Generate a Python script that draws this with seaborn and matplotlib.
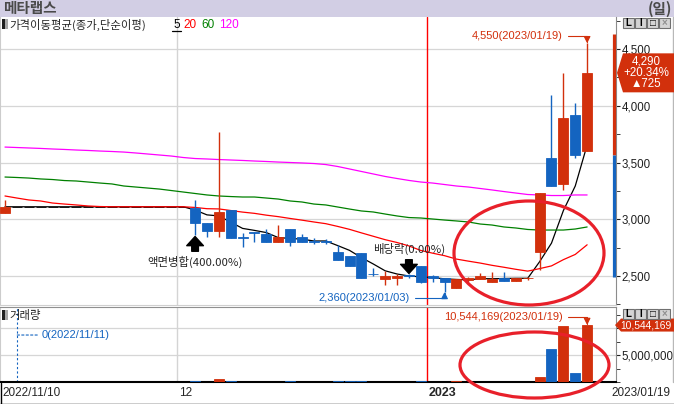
import numpy as np
import pandas as pd
import matplotlib
matplotlib.use('Agg')
import matplotlib.pyplot as plt
import matplotlib.transforms as mtransforms
from matplotlib.patches import Rectangle, Polygon, Ellipse
from matplotlib.lines import Line2D
from matplotlib.ticker import MultipleLocator
import seaborn as sns

# 메타랩스 일봉 (2022/11/10 ~ 2023/01/19)
dates = pd.to_datetime([
    '2022-11-10', '2022-11-11',
    '2022-11-14', '2022-11-15', '2022-11-16', '2022-11-17', '2022-11-18',
    '2022-11-21', '2022-11-22', '2022-11-23', '2022-11-24', '2022-11-25',
    '2022-11-28', '2022-11-29', '2022-11-30', '2022-12-01', '2022-12-02',
    '2022-12-05', '2022-12-06', '2022-12-07', '2022-12-08', '2022-12-09',
    '2022-12-12', '2022-12-13', '2022-12-14', '2022-12-15', '2022-12-16',
    '2022-12-19', '2022-12-20', '2022-12-21', '2022-12-22', '2022-12-23',
    '2022-12-26', '2022-12-27', '2022-12-28', '2022-12-29',
    '2023-01-02', '2023-01-03', '2023-01-04', '2023-01-05', '2023-01-06',
    '2023-01-09', '2023-01-10', '2023-01-11', '2023-01-12', '2023-01-13',
    '2023-01-16', '2023-01-17', '2023-01-18', '2023-01-19',
])

open_ = [3055, 3110, 3110, 3110, 3110, 3110, 3110, 3110, 3110, 3110, 3110, 3110, 3110, 3110, 3110, 3110,
         3099, 2967, 2896, 3081, 2840, 2884, 2870, 2800, 2914, 2843,
         2805, 2805, 2711, 2676, 2703, 2522, 2473, 2482, 2505, 2588,
         2500, 2482, 2394, 2465, 2473, 2450, 2482, 2460, 2478, 2711,
         3540, 3311, 3918, 3600]
high = [3170, 3110, 3110, 3110, 3110, 3110, 3110, 3110, 3110, 3110, 3110, 3110, 3110, 3110, 3110, 3110,
        3170, 2967, 3769, 3081, 2879, 2884, 2914, 2950, 2914, 2870,
        2835, 2826, 2773, 2676, 2703, 2570, 2544, 2518, 2518, 2588,
        2509, 2482, 2473, 2491, 2527, 2535, 2535, 2482, 2491, 3231,
        4095, 4289, 4024, 4550]
low = [3055, 3110, 3110, 3110, 3110, 3110, 3110, 3110, 3110, 3110, 3110, 3110, 3110, 3110, 3110, 3110,
       2861, 2844, 2844, 2835, 2755, 2800, 2800, 2800, 2764, 2800,
       2782, 2782, 2641, 2588, 2482, 2500, 2420, 2420, 2482, 2438,
       2447, 2360, 2394, 2447, 2473, 2450, 2460, 2460, 2465, 2553,
       3293, 3258, 3540, 3600]
close = [3110, 3110, 3110, 3110, 3110, 3110, 3110, 3110, 3110, 3110, 3110, 3110, 3110, 3110, 3110, 3110,
         2967, 2896, 3064, 2835, 2835, 2879, 2800, 2843, 2800, 2800,
         2800, 2800, 2641, 2588, 2482, 2518, 2500, 2500, 2500, 2447,
         2482, 2447, 2473, 2482, 2500, 2475, 2460, 2482, 2482, 3231,
         3293, 3893, 3565, 4290]
volume = [40000, 0, 0, 0, 0, 0, 0, 0, 0, 0, 0, 0, 0, 0, 0, 0,
          180000, 90000, 480000, 200000, 70000, 60000, 90000, 80000, 100000, 50000,
          40000, 40000, 120000, 110000, 150000, 60000, 70000, 50000, 40000, 130000,
          60000, 90000, 100000, 50000, 60000, 50000, 60000, 40000, 50000, 950000,
          6100000, 10300000, 1670000, 10544169]

# 이동평균 (20, 60, 120은 화면에서 읽은 값)
ma20 = [3205, 3187, 3170, 3161, 3143, 3134, 3126, 3117, 3112, 3110, 3110, 3110, 3110, 3110, 3110, 3110,
        3104, 3093, 3091, 3077, 3063, 3052, 3036, 3023, 3007, 2992,
        2976, 2961, 2937, 2911, 2880, 2850, 2820, 2795, 2765, 2725,
        2701, 2679, 2649, 2631, 2614, 2594, 2577, 2559, 2543, 2565,
        2589, 2644, 2690, 2775]
ma60 = [3372, 3368, 3363, 3355, 3350, 3341, 3337, 3328, 3319, 3311,
        3293, 3284, 3275, 3266, 3253, 3240, 3227, 3214, 3205, 3200,
        3196, 3196, 3187, 3178, 3161, 3152, 3134, 3126, 3108, 3090,
        3073, 3064, 3046, 3029, 3015, 3011, 3002, 2993, 2985, 2976,
        2958, 2949, 2932, 2923, 2910, 2905, 2905, 2905, 2914, 2932]
ma120 = [3636, 3632, 3628, 3624, 3619, 3615, 3610, 3606, 3601, 3597,
         3592, 3584, 3575, 3566, 3557, 3544, 3535, 3531, 3526, 3522,
         3518, 3513, 3509, 3504, 3500, 3496, 3491, 3482, 3465, 3443,
         3421, 3399, 3377, 3359, 3342, 3328, 3319, 3306, 3293, 3284,
         3271, 3258, 3244, 3231, 3218, 3214, 3209, 3209, 3214, 3214]

price_ticks = [2500, 3000, 3500, 4000, 4500]
volume_ticks = [5000000, 10000000]

RED = '#d2300c'
BLUE = '#1464c0'
KR = ['Noto Sans CJK KR', 'DejaVu Sans']

sns.set_style('white')
plt.rcParams['font.family'] = ['Liberation Sans', 'DejaVu Sans', 'Noto Sans CJK KR']

W, H = 674, 404
fig = plt.figure(figsize=(W / 100, H / 100), dpi=100)


def fx(px):
    return px / W


def fy(py):
    return 1 - py / H


ax = fig.add_axes([0, fy(305), fx(616), (305 - 17) / H])
axv = fig.add_axes([0, fy(382), fx(616), (382 - 307) / H], sharex=ax)

x = np.arange(len(dates))
o, h, l, c = map(np.array, (open_, high, low, close))
vol = np.array(volume)
col = np.where(c > o, RED, np.where(c < o, BLUE, 'black'))
flat = c == o

# 캔들
for zo, m in ((3, ~flat), (1.5, flat)):
    ax.vlines(x[m], l[m], h[m], colors=col[m], lw=1, zorder=zo)
    ax.bar(x[m], np.abs(c - o)[m], bottom=np.minimum(o, c)[m], width=0.84,
           color=col[m], edgecolor=col[m], lw=0.6, zorder=zo)

# 이동평균선
ma5 = pd.Series(c).rolling(5, min_periods=1).mean()
for vals, mc in ((ma5, 'black'), (ma20, '#ff0000'), (ma60, '#008000'), (ma120, '#ff00ff')):
    sns.lineplot(x=x, y=np.asarray(vals, float), color=mc, lw=0.9, ax=ax, zorder=2)

# 거래량
vcol = np.where(c >= o, RED, BLUE)
axv.bar(x, vol, width=0.84, color=vcol, edgecolor=vcol, lw=0.6, zorder=3)

# 월 구분선
new_month = np.where(dates.month[1:] != dates.month[:-1])[0] + 1
for i in new_month:
    lc = 'red' if dates[i].year != dates[i - 1].year else '#d4d4d4'
    for a in (ax, axv):
        a.axvline(i - 0.5, color=lc, lw=1, zorder=1)

ax.set_xlim(-0.42, 51.43)
ax.set_ylim(2244.5, 4782)
axv.set_ylim(0, 13.89e6)

for a, ticks in ((ax, price_ticks), (axv, volume_ticks)):
    a.yaxis.tick_right()
    a.set_yticks(ticks)
    a.set_yticklabels([f'{t:,}' for t in ticks])
    a.tick_params(axis='y', which='both', direction='out', length=3, pad=1,
                  labelsize=8.3, colors='#202020')
    a.grid(axis='y', color='#d6d6d6', lw=0.9)
    a.set_axisbelow(True)
    a.set_xlabel('')
    a.set_ylabel('')
# 10,000,000 라벨은 거래량 태그에 가려지므로 비워 둔다
axv.set_yticklabels([f'{volume_ticks[0]:,}', ''])
ax.yaxis.set_minor_locator(MultipleLocator(250))
axv.yaxis.set_minor_locator(MultipleLocator(2500000))
ax.tick_params(axis='x', which='both', bottom=False, labelbottom=False)

week_start = [0] + [i for i in range(1, len(dates))
                    if dates[i].weekday() < dates[i - 1].weekday() or dates[i].month != dates[i - 1].month]
axv.set_xticks([i - 0.5 for i in week_start[1:]])
axv.tick_params(axis='x', direction='out', length=5, width=1, color='black', labelbottom=False)

ax.spines['top'].set_visible(False)
ax.spines['left'].set_color('#cccccc')
ax.spines['bottom'].set_color('#d0d0d0')
ax.spines['right'].set_color('#8c8c8c')
axv.spines['top'].set_color('#909090')
axv.spines['left'].set_color('#cccccc')
axv.spines['right'].set_color('#8c8c8c')
axv.spines['bottom'].set_color('black')
axv.spines['bottom'].set_linewidth(1.5)

# 상/하한가 바
prev = c[-2]
trans = mtransforms.blended_transform_factory(ax.transAxes, ax.transData)
ax.vlines(0.9965, prev, prev * 1.3, transform=trans, colors=RED, lw=2.3, clip_on=False, zorder=4)
ax.vlines(0.9965, prev * 0.7, prev, transform=trans, colors=BLUE, lw=2.3, clip_on=False, zorder=4)

# 최고/최저 표시
arrow_kw = dict(arrowstyle='-|>,head_length=0.5,head_width=0.25', mutation_scale=8,
                connectionstyle='angle,angleA=0,angleB=90,rad=0', relpos=(1, 0.5),
                shrinkA=1, shrinkB=0, lw=0.8)
ih = int(np.argmax(h))
ax.annotate(f'{h[ih]:,}({dates[ih]:%Y/%m/%d})', xy=(ih, h[ih]), xytext=(46.97, 4614),
            ha='right', va='center', fontsize=8, color=RED,
            arrowprops=dict(color=RED, **arrow_kw))
il = int(np.argmin(l))
ax.annotate(f'{l[il]:,}({dates[il]:%Y/%m/%d})', xy=(il, l[il]), xytext=(34.09, 2306),
            ha='right', va='center', fontsize=8, color=BLUE,
            arrowprops=dict(color=BLUE, **arrow_kw))
iv = int(np.argmax(vol))
axv.annotate(f'{vol[iv]:,}({dates[iv]:%Y/%m/%d})', xy=(iv, vol[iv]), xytext=(46.97, 12.04e6),
             ha='right', va='center', fontsize=8, color=RED,
             arrowprops=dict(color=RED, **arrow_kw))
iz = int(np.argmin(vol))
axv.axvline(iz, color=BLUE, lw=0.8, ls=(0, (2, 2)), zorder=2)
axv.annotate(f'{vol[iz]:,}({dates[iz]:%Y/%m/%d})', xy=(iz, 8.7e6), xytext=(3.11, 8.7e6),
             ha='left', va='center', fontsize=8, color=BLUE,
             arrowprops=dict(arrowstyle='-', ls=(0, (2, 2)), color=BLUE, lw=0.8,
                             relpos=(0, 0.5), shrinkA=1, shrinkB=0))

# 이벤트 화살표
big_arrow = dict(arrowstyle='simple,head_length=0.55,head_width=1.0,tail_width=0.4',
                 fc='black', ec='black', mutation_scale=12, shrinkA=1, shrinkB=0)
ax.annotate('액면병합(400.00%)', xy=(16, 2848), xytext=(16, 2623), ha='center', va='center',
            fontsize=8.2, family=KR, arrowprops=big_arrow, zorder=6)
ax.annotate('배당락(0.00%)', xy=(34, 2522), xytext=(34, 2738), ha='center', va='center',
            fontsize=8.2, family=KR, arrowprops=big_arrow, zorder=6)


def to_px(a, xd, yd):
    dx, dy = a.transData.transform((xd, yd))
    return dx, H - dy


def fig_poly(pts, **kw):
    fig.add_artist(Polygon([(fx(px), fy(py)) for px, py in pts], closed=True,
                           transform=fig.transFigure, **kw))


# 현재가 태그
_, ty = to_px(ax, 0, c[-1])
fig_poly([(617, ty), (623, ty - 19.5), (674, ty - 19.5), (674, ty + 19.5), (623, ty + 19.5)],
         fc=RED, ec='none', zorder=8)
chg = c[-1] - c[-2]
for dy, s in ((-11.5, f'{c[-1]:,}'), (0, f'+{chg / c[-2] * 100:.2f}%'), (11.5, f'▲{chg:,}')):
    fig.text(fx(646), fy(ty + dy), s, color='white', ha='center', va='center', fontsize=8.3, zorder=9)

_, vy = to_px(axv, 0, vol[-1])
fig_poly([(615, vy), (621, vy - 6.5), (674, vy - 6.5), (674, vy + 6.5), (621, vy + 6.5)],
         fc=RED, ec='none', zorder=8)
fig.text(fx(672), fy(vy), f'{vol[-1]:,}', color='white', ha='right', va='center', fontsize=7.4, zorder=9)

# 동그라미 표시
for cx, cy, ew, eh in ((529, 253, 150, 104), (534.5, 365, 149, 66)):
    fig.add_artist(Ellipse((fx(cx), fy(cy)), ew / W, eh / H, fill=False, ec='#e8202a',
                           lw=2.3, transform=fig.transFigure, zorder=10))

# 상단 타이틀 바
fig.add_artist(Rectangle((0, fy(16.5)), 1, 16.5 / H, transform=fig.transFigure,
                         fc='#d2cee4', ec='none', zorder=0))
fig.text(fx(3), fy(8.5), '메타랩스', family=KR, fontsize=10.5, fontweight='bold',
         color='#4a4a4a', va='center', ha='left')
fig.text(fx(672), fy(8.5), '(일)', family=KR, fontsize=10.5, fontweight='bold',
         color='#4a4a4a', va='center', ha='right')

# 범례 텍스트
for top in (19, 310):
    fig.add_artist(Rectangle((fx(2), fy(top + 10)), 3 / W, 10 / H, transform=fig.transFigure,
                             fc='#202020', ec='none', zorder=5))
    fig.add_artist(Rectangle((fx(5), fy(top + 10)), 3 / W, 10 / H, transform=fig.transFigure,
                             fc='#a8a8a8', ec='none', zorder=5))
fig.text(fx(9), fy(24.5), '가격이동평균(종가,단순이평)', family=KR, fontsize=8.2, va='center')
for px, s, mc in ((173, '5', 'black'), (183, '20', '#ff0000'), (201, '60', '#008000'), (219, '120', '#ff00ff')):
    fig.text(fx(px), fy(24.5), s, color=mc, fontsize=8.5, va='center')
fig.add_artist(Line2D([fx(172), fx(181)], [fy(30.5), fy(30.5)], color='black', lw=0.9,
                      transform=fig.transFigure))
fig.text(fx(9), fy(315), '거래량', family=KR, fontsize=8.2, va='center')

# 창 버튼
for top in (18, 309):
    for k, g in enumerate(['L', 'I', '□', '×']):
        fig.add_artist(Rectangle((fx(623 + 12 * k), fy(top + 10)), 11 / W, 10 / H,
                                 transform=fig.transFigure, fc='#d4d4d4', ec='#707070',
                                 lw=0.8, zorder=9))
        fig.text(fx(628.5 + 12 * k), fy(top + 5), g, ha='center', va='center', fontsize=7,
                 fontweight='bold', color='#909090' if g == '×' else 'black', zorder=10)

# 날짜 축 라벨
xb = mtransforms.blended_transform_factory(axv.transData, axv.transAxes)
fig.text(fx(2), fy(393), f'{dates[0]:%Y/%m/%d}', fontsize=8.5, va='center', ha='left')
for i in new_month:
    if dates[i].year != dates[i - 1].year:
        axv.text(i - 0.35, -0.147, f'{dates[i].year}', transform=xb, fontsize=9,
                 fontweight='bold', va='center', ha='left')
    else:
        axv.text(i - 0.35, -0.147, f'{dates[i].month}', transform=xb, fontsize=8.5,
                 va='center', ha='left')
fig.text(fx(611), fy(393), f'{dates[-1]:%Y/%m/%d}', fontsize=8.5, va='center', ha='left')

# 테두리
fig.add_artist(Line2D([0, 1], [fy(403.5), fy(403.5)], color='black', lw=1, transform=fig.transFigure))
fig.add_artist(Line2D([fx(0.5), fx(0.5)], [fy(383), fy(404)], color='black', lw=1, transform=fig.transFigure))
fig.add_artist(Line2D([fx(672.5), fx(672.5)], [fy(17), fy(382)], color='#b8b8b8', lw=1,
                      transform=fig.transFigure))

fig.savefig('out.png', dpi=100)
